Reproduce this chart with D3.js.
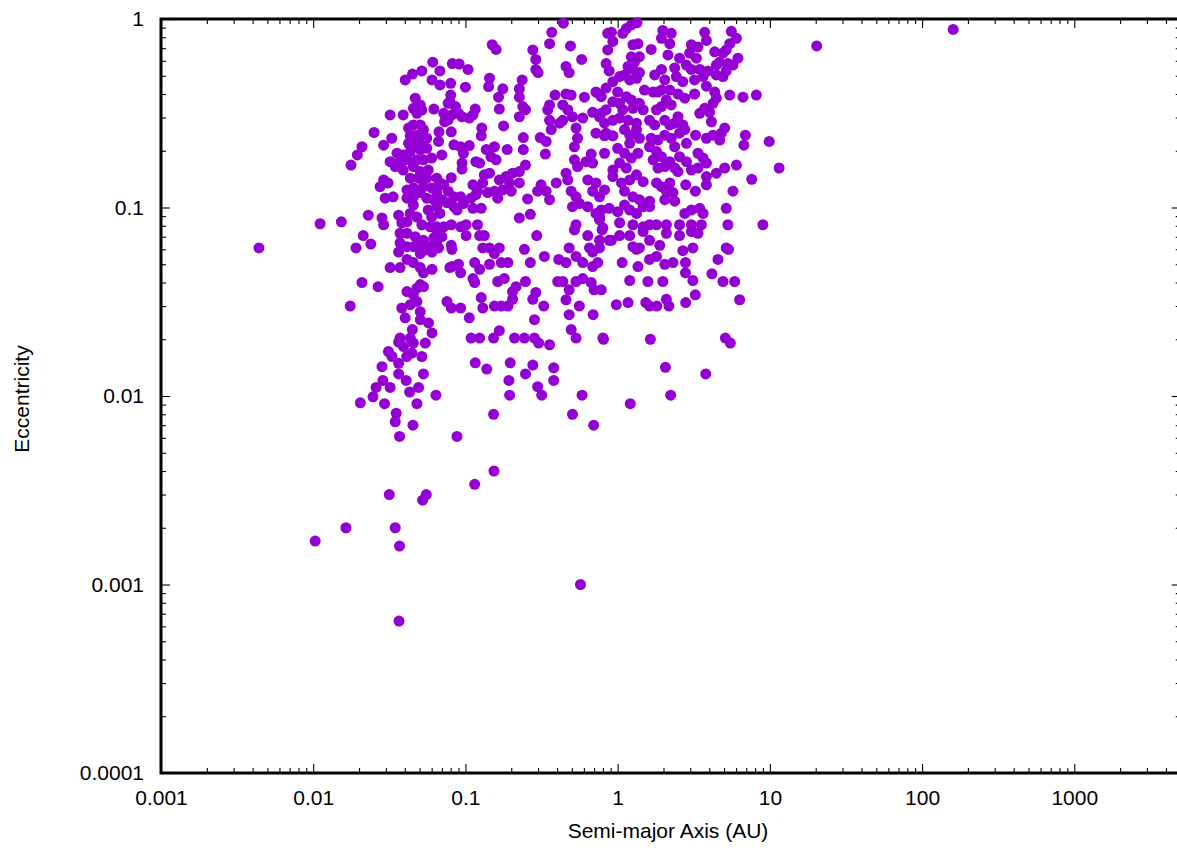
<!DOCTYPE html>
<html>
<head>
<meta charset="utf-8">
<script src="https://cdn.jsdelivr.net/npm/d3@7"></script>
<style>
  body { margin: 0; background: #fff; }
  svg { display: block; }
  text { font-family: "Liberation Sans", Arial, Helvetica, sans-serif; }
</style>
</head>
<body>
<div class="chart"></div>
<script>
// [semi-major axis (AU), eccentricity]
const innerOrbits = [
  [0.0044,0.061],[0.0103,0.0017],[0.0111,0.082],[0.0153,0.084],[0.0164,0.002],[0.0175,0.030],[0.0177,0.168],[0.0195,0.19],
  [0.0209,0.21],[0.0204,0.0092],[0.0191,0.061],[0.0213,0.071],[0.0239,0.064],[0.0209,0.040],[0.0267,0.038],[0.023,0.091],[0.0251,0.25],
  [0.0247,0.0099],[0.0259,0.0111],[0.0287,0.0121],[0.032,0.0111],[0.0294,0.0091],[0.0283,0.0143],[0.0312,0.0172],[0.0329,0.0162],
  [0.0364,0.0149],[0.0364,0.0193],[0.0392,0.0183],[0.0434,0.0203],[0.0455,0.0191],[0.0545,0.0191],[0.0412,0.0162],[0.0445,0.0169],
  [0.0517,0.0162],[0.0364,0.0131],[0.0408,0.0121],[0.053,0.0131],[0.043,0.0105],[0.0492,0.0111],[0.048,0.0091],[0.0351,0.0081],
  [0.0346,0.0073],[0.0452,0.007],[0.0369,0.0061],[0.088,0.0061],[0.0316,0.003],[0.0553,0.003],[0.0523,0.0028],[0.0346,0.002],
  [0.0369,0.0016],[0.0366,0.00064],[0.064,0.0101],
  [0.0807,0.081],[0.093,0.079],[0.0517,0.081],[0.0587,0.079],[0.0651,0.0745],[0.070,0.070],[0.062,0.069],[0.053,0.067],[0.0572,0.062],
  [0.0666,0.061],[0.0603,0.058],[0.0505,0.057],[0.0517,0.061],[0.0807,0.063],[0.0815,0.060],[0.0815,0.0486],[0.09,0.05],[0.093,0.045],
  [0.079,0.048],[0.0603,0.047],[0.0505,0.048],[0.0505,0.039],[0.053,0.038],[0.0756,0.0317],[0.0807,0.0293],[0.093,0.0293],[0.0505,0.028],
  [0.0572,0.0244],[0.0603,0.0216],
  [0.061,0.59],[0.082,0.58],[0.091,0.577],[0.068,0.53],[0.0603,0.475],[0.068,0.447],[0.0517,0.53],[0.080,0.456],[0.08,0.395],[0.079,0.364],
  [0.086,0.343],[0.09,0.316],[0.095,0.303],[0.072,0.316],[0.077,0.292],[0.0815,0.31],[0.062,0.333],[0.0517,0.329],[0.067,0.252],[0.0807,0.252],
  [0.084,0.215],[0.093,0.21],[0.097,0.194],[0.095,0.172],[0.0666,0.224],[0.07,0.19],[0.093,0.114],[0.097,0.105],[0.084,0.101],[0.088,0.097],
  [0.068,0.135],[0.0807,0.144],[0.077,0.122],[0.07,0.11],
  [0.0468,0.38],[0.0505,0.35],[0.048,0.316],[0.0455,0.336],[0.032,0.31],[0.039,0.31],[0.077,0.357],[0.073,0.285],[0.0328,0.233],[0.029,0.214],
  [0.0423,0.264],[0.0455,0.274],[0.0505,0.274],[0.053,0.259],[0.048,0.242],[0.0434,0.24],[0.0557,0.233],[0.0505,0.219],[0.0455,0.215],
  [0.0423,0.219],[0.0355,0.194],[0.039,0.19],[0.0434,0.198],[0.0505,0.203],[0.0557,0.206],[0.060,0.183],[0.053,0.179],[0.048,0.179],
  [0.0413,0.179],[0.0372,0.175],[0.032,0.175],[0.0346,0.165],[0.095,0.16],[0.039,0.158],[0.0455,0.165],[0.0505,0.155],[0.057,0.158],
  [0.0434,0.143],[0.049,0.143],[0.0557,0.143],[0.0648,0.143],[0.072,0.132],[0.029,0.14],[0.0275,0.129],[0.031,0.135],[0.0413,0.124],
  [0.0455,0.127],[0.053,0.129],[0.06,0.127],[0.0648,0.12],[0.0505,0.12],[0.0455,0.114],[0.0413,0.112],[0.0557,0.112],[0.062,0.11],
  [0.0297,0.112],[0.0335,0.114],[0.084,0.114],[0.0755,0.106],[0.0455,0.103],[0.0434,0.093],[0.048,0.089],[0.057,0.097],[0.0648,0.101],
  [0.068,0.093],[0.06,0.089],[0.0364,0.091],[0.0283,0.088],[0.029,0.081],[0.0382,0.083],[0.0413,0.084],[0.0648,0.079],[0.072,0.079],
  [0.0372,0.073],[0.0413,0.073],[0.0468,0.070],[0.0648,0.066],[0.0372,0.065],[0.0364,0.058],[0.0413,0.062],[0.0455,0.062],[0.0505,0.065],
  [0.054,0.0595],[0.0413,0.053],[0.0455,0.051],[0.053,0.045],[0.032,0.048],[0.0372,0.048],[0.048,0.0373],[0.0413,0.0358],[0.0455,0.0344],
  [0.048,0.0317],[0.0434,0.0305],[0.0382,0.0293],[0.0402,0.026],[0.0505,0.0254],[0.0448,0.0225],[0.0372,0.0203],
  [0.0402,0.475],[0.0449,0.51]
];

const middleOrbits = [
  [0.57,0.001],[0.38,0.0141],[0.38,0.0121],[0.298,0.0112],[0.317,0.0101],[0.195,0.0101],[0.193,0.0121],[0.197,0.015],[0.277,0.0146],
  [0.248,0.0131],[0.116,0.015],[0.138,0.0139],[0.153,0.008],[0.505,0.008],[0.696,0.007],[0.584,0.0101],[0.807,0.02],[0.154,0.004],[0.115,0.0034],
  [0.101,0.081],[0.12,0.081],[0.101,0.071],[0.124,0.071],[0.133,0.071],[0.13,0.061],[0.144,0.061],[0.155,0.057],[0.167,0.061],[0.244,0.060],
  [0.294,0.071],[0.226,0.088],[0.267,0.092],[0.533,0.081],[0.52,0.076],[0.636,0.071],[0.76,0.086],[0.79,0.076],[0.76,0.067],[0.88,0.067],
  [0.48,0.061],[0.533,0.055],[0.653,0.061],[0.685,0.058],[0.76,0.061],[0.33,0.055],[0.267,0.051],[0.41,0.053],[0.458,0.051],[0.59,0.051],
  [0.685,0.0486],[0.74,0.051],[0.115,0.051],[0.124,0.047],[0.144,0.05],[0.172,0.051],[0.19,0.051],[0.112,0.042],[0.115,0.040],[0.163,0.0405],
  [0.18,0.042],[0.248,0.0405],[0.404,0.0405],[0.436,0.0405],[0.533,0.0405],[0.59,0.042],[0.67,0.040],[0.70,0.0366],[0.78,0.0366],[0.48,0.0366],
  [0.458,0.0324],[0.215,0.038],[0.204,0.0358],[0.204,0.0326],[0.29,0.0354],[0.277,0.0326],[0.127,0.0333],[0.13,0.0293],[0.155,0.030],
  [0.172,0.030],[0.19,0.030],[0.327,0.030],[0.56,0.030],[0.106,0.026],[0.48,0.027],[0.69,0.027],[0.284,0.0254],[0.167,0.0222],[0.109,0.0203],
  [0.124,0.0203],[0.153,0.0203],[0.21,0.0203],[0.244,0.0203],[0.284,0.0203],[0.303,0.0191],[0.357,0.0187],[0.495,0.0225],[0.533,0.0203],[0.80,0.0203],
  [0.80,0.078],[0.91,0.067],[0.98,0.0305],[0.76,0.089],[0.76,0.114],[0.78,0.097],[0.88,0.099],
  [0.91,0.85],[0.93,0.76],[0.84,0.58],[0.88,0.53],[0.93,0.465],[0.84,0.43],[0.76,0.40],[0.93,0.364],[0.84,0.33],[0.76,0.303],[0.82,0.28],
  [0.93,0.29],[0.84,0.248],[0.93,0.24],[0.82,0.194],[0.93,0.158],[0.93,0.146],
  [0.44,0.95],[0.369,0.85],[0.357,0.74],[0.49,0.72],[0.86,0.84],[0.15,0.73],[0.159,0.69],[0.58,0.61],[0.277,0.685],[0.29,0.61],[0.29,0.54],
  [0.30,0.52],[0.458,0.56],[0.48,0.52],[0.104,0.54],[0.1,0.435],[0.144,0.485],[0.142,0.438],[0.176,0.426],[0.165,0.385],[0.167,0.333],
  [0.236,0.475],[0.226,0.426],[0.226,0.385],[0.238,0.343],[0.248,0.33],[0.226,0.303],[0.116,0.333],[0.112,0.31],[0.178,0.271],[0.128,0.264],
  [0.127,0.24],[0.388,0.395],[0.357,0.35],[0.347,0.33],[0.357,0.29],[0.366,0.259],[0.458,0.40],[0.495,0.395],[0.436,0.35],[0.47,0.33],
  [0.505,0.303],[0.436,0.29],[0.415,0.28],[0.605,0.385],[0.72,0.41],[0.78,0.387],[0.59,0.298],[0.685,0.32],[0.78,0.316],[0.72,0.248],
  [0.82,0.24],[0.86,0.685],[0.533,0.264],[0.545,0.233],[0.52,0.21],[0.24,0.235],[0.24,0.203],[0.31,0.235],[0.339,0.224],[0.335,0.192],
  [0.248,0.168],[0.188,0.203],[0.155,0.21],[0.137,0.203],[0.147,0.186],[0.159,0.179],[0.124,0.172],[0.133,0.149],[0.144,0.152],[0.106,0.213],
  [0.52,0.179],[0.545,0.165],[0.67,0.192],[0.685,0.172],[0.62,0.175],[0.458,0.152],[0.47,0.14],[0.395,0.135],[0.314,0.132],[0.298,0.122],
  [0.339,0.122],[0.357,0.11],[0.226,0.155],[0.204,0.152],[0.185,0.146],[0.167,0.14],[0.195,0.135],[0.226,0.135],[0.176,0.124],[0.2,0.122],
  [0.112,0.132],[0.13,0.135],[0.12,0.122],[0.14,0.12],[0.155,0.122],[0.256,0.111],[0.163,0.112],[0.112,0.099],[0.127,0.099],[0.495,0.122],
  [0.533,0.114],[0.505,0.101],[0.56,0.105],[0.636,0.14],[0.72,0.135],[0.685,0.122],[0.82,0.124],[0.636,0.101],[0.72,0.093],
  [0.106,0.298],[0.117,0.175],[0.109,0.112],[0.117,0.117]
];

const outerOrbits = [
  [1.21,0.0091],[2.23,0.0101],[2.06,0.0142],[3.79,0.0131],[5.10,0.0203],[5.5,0.0191],[1.64,0.02],
  [11.5,0.162],[9.9,0.224],[7.6,0.141],[20.3,0.72],[160,0.88],[8.15,0.395],[6.66,0.385],[5.45,0.395],[6.9,0.242],[6.75,0.214],
  [6.03,0.168],[5.72,0.122],[5.17,0.099],
  [5.3,0.081],[9.0,0.081],[1.03,0.071],[1.20,0.071],[1.03,0.083],[1.26,0.081],[1.47,0.079],[1.62,0.081],[1.80,0.081],[2.09,0.081],
  [2.09,0.073],[2.55,0.081],[2.55,0.071],[3.05,0.081],[3.05,0.0745],[3.37,0.073],[3.55,0.081],[1.47,0.0745],[1.62,0.067],[1.89,0.063],
  [1.26,0.062],[1.33,0.060],[1.39,0.061],[2.68,0.059],[3.12,0.061],[5.17,0.061],[5.35,0.060],[4.56,0.053],[1.07,0.051],[1.36,0.0486],
  [1.62,0.053],[1.80,0.055],[2.04,0.050],[2.31,0.051],[2.79,0.051],[2.79,0.045],[3.12,0.041],[4.16,0.0445],[4.92,0.0405],[5.87,0.0405],
  [1.20,0.041],[1.58,0.0405],[1.98,0.0405],[3.24,0.0344],[6.33,0.0324],[1.17,0.0313],[1.53,0.0313],[1.62,0.030],[1.81,0.030],[2.09,0.0326],
  [2.17,0.030],[2.80,0.0313],
  [1.34,0.956],[1.23,0.93],[1.14,0.89],[1.08,0.84],[1.98,0.87],[1.94,0.79],[2.25,0.84],[2.20,0.74],[3.73,0.85],[3.83,0.77],[5.58,0.86],
  [6.03,0.79],[5.45,0.74],[5.17,0.685],[1.66,0.69],[2.14,0.645],[2.55,0.62],[1.26,0.73],[1.36,0.74],[1.23,0.63],[1.29,0.59],[1.39,0.63],
  [3.05,0.73],[3.37,0.71],[2.97,0.66],[3.29,0.62],[2.83,0.57],[4.34,0.67],[4.92,0.66],[4.68,0.59],[4.45,0.57],[5.31,0.58],[6.17,0.62],
  [5.72,0.57],[1.17,0.56],[1.26,0.54],[1.33,0.485],[1.11,0.505],[1.39,0.52],[1.20,0.475],[1.03,0.495],[1.94,0.54],[1.75,0.505],[2.04,0.475],
  [2.37,0.55],[2.43,0.495],[2.68,0.465],[3.05,0.54],[3.46,0.54],[3.92,0.53],[3.20,0.475],[3.64,0.495],[4.45,0.505],[5.17,0.53],[4.92,0.495],
  [1.0,0.41],[1.14,0.387],[1.23,0.372],[1.03,0.357],[1.08,0.33],[1.26,0.336],[1.39,0.357],[1.47,0.33],[1.50,0.42],[1.71,0.41],[1.84,0.41],
  [1.94,0.42],[2.20,0.42],[2.49,0.40],[2.76,0.38],[3.20,0.40],[3.83,0.44],[4.34,0.41],[4.45,0.38],[4.23,0.357],[3.73,0.336],[3.46,0.316],
  [4.02,0.32],[4.13,0.285],[2.09,0.372],[1.94,0.343],[1.80,0.33],[2.25,0.35],[1.03,0.298],[1.17,0.29],[1.33,0.28],[1.62,0.29],[1.75,0.274],
  [2.04,0.29],[2.20,0.274],[2.49,0.303],[2.37,0.28],[2.68,0.274],[2.76,0.259],[1.11,0.259],[1.20,0.242],[1.33,0.259],[1.39,0.233],[1.20,0.219],
  [1.66,0.233],[1.84,0.228],[2.04,0.242],[2.25,0.233],[2.55,0.248],[2.83,0.219],[2.37,0.21],[3.25,0.242],[3.83,0.233],[4.23,0.242],[4.68,0.228],
  [5.05,0.264],[4.80,0.248],[1.0,0.206],[1.11,0.194],[1.03,0.172],[1.23,0.183],[1.36,0.194],[1.14,0.162],[1.62,0.21],[1.80,0.198],[1.71,0.179],
  [1.94,0.186],[2.04,0.165],[1.84,0.162],[2.20,0.175],[2.55,0.186],[2.83,0.175],[2.49,0.155],[2.37,0.162],[3.37,0.194],[3.64,0.183],[3.83,0.172],
  [3.37,0.162],[3.05,0.158],[4.45,0.152],[5.05,0.162],[3.83,0.146],[3.83,0.132],[2.80,0.132],[3.24,0.122],[1.06,0.135],[1.20,0.14],[1.33,0.149],
  [1.47,0.137],[1.11,0.122],[1.26,0.114],[1.39,0.11],[1.62,0.108],[1.80,0.135],[1.94,0.129],[2.20,0.135],[2.09,0.122],[2.31,0.12],[2.04,0.11],
  [2.37,0.108],[1.0,0.095],[1.11,0.103],[1.20,0.097],[1.47,0.101],[1.62,0.101],[1.33,0.093],[2.76,0.093],[3.05,0.097],[3.46,0.099],[3.64,0.093]
];

const xTickValues = [0.001, 0.01, 0.1, 1, 10, 100, 1000];
const yTickValues = [0.0001, 0.001, 0.01, 0.1, 1];
const xLabel = "Semi-major Axis (AU)";
const yLabel = "Eccentricity";

const planets = innerOrbits.concat(middleOrbits, outerOrbits);

const width = 1177, height = 850;
const plotLeft = 161, plotRight = 1180.7, plotTop = 19, plotBottom = 773;

const x = d3.scaleLog().domain([0.001, 5000]).range([plotLeft, plotRight]);
const y = d3.scaleLog().domain([0.0001, 1]).range([plotBottom, plotTop]);

// minor ticks at 2..9 x 10^k inside each domain
function minorTicks(scale) {
  const [lo, hi] = scale.domain();
  const out = [];
  for (let k = Math.floor(Math.log10(lo)); k <= Math.ceil(Math.log10(hi)); k++) {
    for (let m = 2; m <= 9; m++) {
      const v = m * Math.pow(10, k);
      if (v > lo && v < hi) out.push(v);
    }
  }
  return out;
}

const svg = d3.select(".chart").append("svg")
  .attr("width", width)
  .attr("height", height);

const fmt = d => String(d);

function styleAxis(g) {
  g.select(".domain").remove();
  g.selectAll(".tick line").attr("stroke", "#000").attr("stroke-width", 1.1);
  g.selectAll("text").attr("font-size", 21).attr("fill", "#000");
}

// bottom
svg.append("g").attr("transform", `translate(0,${plotBottom})`)
  .call(d3.axisBottom(x).tickValues(xTickValues).tickFormat(fmt).tickSize(-9).tickPadding(17))
  .call(styleAxis);
svg.append("g").attr("transform", `translate(0,${plotBottom})`)
  .call(d3.axisBottom(x).tickValues(minorTicks(x)).tickFormat("").tickSize(-5))
  .call(styleAxis);
// top
svg.append("g").attr("transform", `translate(0,${plotTop})`)
  .call(d3.axisTop(x).tickValues(xTickValues).tickFormat("").tickSize(-9))
  .call(styleAxis);
svg.append("g").attr("transform", `translate(0,${plotTop})`)
  .call(d3.axisTop(x).tickValues(minorTicks(x)).tickFormat("").tickSize(-5))
  .call(styleAxis);
// left
svg.append("g").attr("transform", `translate(${plotLeft},0)`)
  .call(d3.axisLeft(y).tickValues(yTickValues).tickFormat(fmt).tickSize(-9).tickPadding(17))
  .call(styleAxis);
svg.append("g").attr("transform", `translate(${plotLeft},0)`)
  .call(d3.axisLeft(y).tickValues(minorTicks(y)).tickFormat("").tickSize(-5))
  .call(styleAxis);
// right
svg.append("g").attr("transform", `translate(${plotRight},0)`)
  .call(d3.axisRight(y).tickValues(yTickValues).tickFormat("").tickSize(-9))
  .call(styleAxis);
svg.append("g").attr("transform", `translate(${plotRight},0)`)
  .call(d3.axisRight(y).tickValues(minorTicks(y)).tickFormat("").tickSize(-5))
  .call(styleAxis);

// frame
svg.append("rect")
  .attr("x", plotLeft).attr("y", plotTop)
  .attr("width", plotRight - plotLeft).attr("height", plotBottom - plotTop)
  .attr("fill", "none").attr("stroke", "#000").attr("stroke-width", 3);

// points
svg.append("g")
  .selectAll("circle")
  .data(planets)
  .join("circle")
  .attr("cx", d => x(d[0]))
  .attr("cy", d => y(d[1]))
  .attr("r", 5.5)
  .attr("fill", "#9400d3");

// axis titles
svg.append("text")
  .attr("x", (plotLeft + 1175) / 2)
  .attr("y", 838)
  .attr("text-anchor", "middle")
  .attr("font-size", 21)
  .text(xLabel);

svg.append("text")
  .attr("transform", "translate(29,399) rotate(-90)")
  .attr("text-anchor", "middle")
  .attr("font-size", 21)
  .text(yLabel);
</script>
</body>
</html>
